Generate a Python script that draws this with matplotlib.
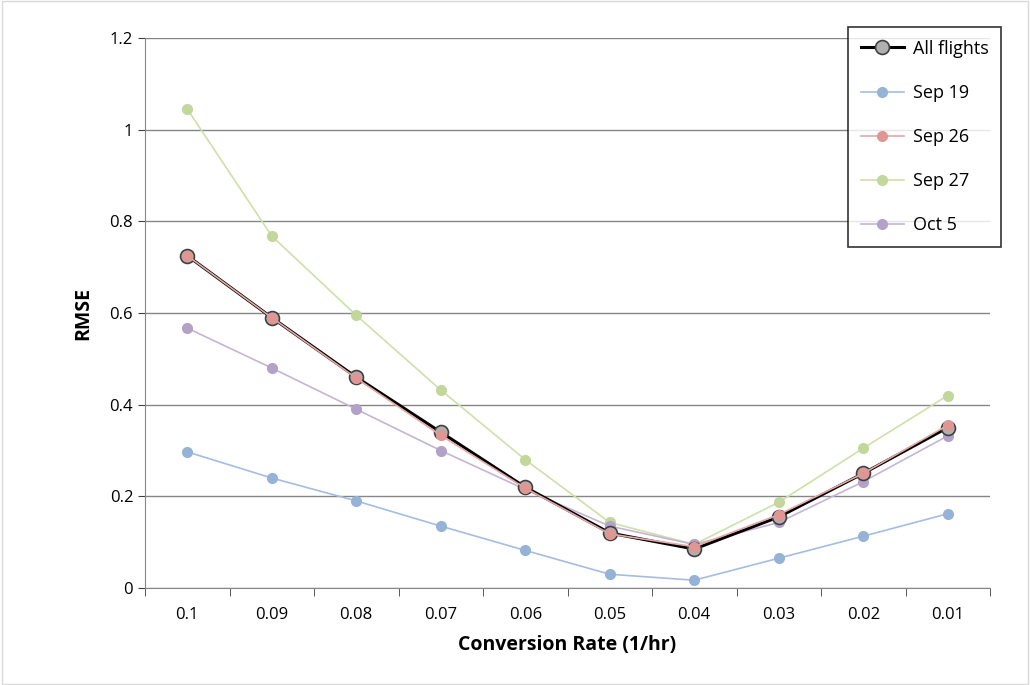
import matplotlib
matplotlib.use("Agg")
import matplotlib.pyplot as plt

plt.rcParams["font.family"] = ["Open Sans", "DejaVu Sans"]

rates = ["0.1", "0.09", "0.08", "0.07", "0.06", "0.05", "0.04", "0.03", "0.02", "0.01"]
all_flights = [0.725, 0.59, 0.46, 0.34, 0.22, 0.12, 0.085, 0.155, 0.25, 0.35]
sep19 = [0.297, 0.24, 0.19, 0.135, 0.082, 0.03, 0.017, 0.065, 0.113, 0.162]
sep26 = [0.725, 0.59, 0.458, 0.333, 0.218, 0.118, 0.09, 0.16, 0.25, 0.355]
sep27 = [1.045, 0.768, 0.595, 0.432, 0.28, 0.143, 0.095, 0.187, 0.305, 0.42]
oct5 = [0.567, 0.48, 0.39, 0.30, 0.215, 0.135, 0.095, 0.143, 0.232, 0.332]

fig = plt.figure(figsize=(10.3, 6.85), dpi=100)
ax = fig.add_axes([145 / 1030, 1 - 588 / 685, 845 / 1030, 550 / 685])
x = list(range(len(rates)))

ax.plot(x, all_flights, color="black", lw=2.2, marker="o", ms=10,
        mfc="#b0b0b0", mec="#404040", mew=1.2, label="All flights", zorder=5)
ax.plot(x, sep19, color="#a4bde0", lw=1.2, marker="o", ms=7, mfc="#95b3d7", mec="#95b3d7", label="Sep 19")
ax.plot(x, sep26, color="#e4a8a6", lw=1.2, marker="o", ms=7, mfc="#e09794", mec="#e09794", label="Sep 26", zorder=6)
ax.plot(x, sep27, color="#cfe0a8", lw=1.2, marker="o", ms=7, mfc="#c3d69b", mec="#c3d69b", label="Sep 27")
ax.plot(x, oct5, color="#c4b5d6", lw=1.2, marker="o", ms=7, mfc="#b3a2c7", mec="#b3a2c7", label="Oct 5")

ax.set_xlim(-0.5, len(rates) - 0.5)
ax.set_ylim(0, 1.2)
ax.set_yticks([0, 0.2, 0.4, 0.6, 0.8, 1.0, 1.2])
ax.set_yticklabels(["0", "0.2", "0.4", "0.6", "0.8", "1", "1.2"])
ax.set_xticks(x)
ax.set_xticklabels(rates)
ax.set_xticks([i - 0.5 for i in range(len(rates) + 1)], minor=True)
ax.tick_params(axis="x", which="major", length=0, pad=14, labelsize=12)
ax.tick_params(axis="x", which="minor", length=6, direction="out", color="#404040")
ax.tick_params(axis="y", length=5, labelsize=12, color="#404040")
ax.grid(axis="y", color="#868686", lw=1)
ax.set_axisbelow(True)
for s in ["top", "right"]:
    ax.spines[s].set_visible(False)
for s in ["left", "bottom"]:
    ax.spines[s].set_color("#868686")

ax.set_xlabel("Conversion Rate (1/hr)", fontsize=14, fontweight="bold", labelpad=8)
ax.set_ylabel("RMSE", fontsize=14, fontweight="bold", labelpad=12)

leg = ax.legend(loc="upper left", bbox_to_anchor=(848 / 1030, 1 - 27 / 685),
                bbox_transform=fig.transFigure, fontsize=13, frameon=True,
                fancybox=False, edgecolor="black", labelspacing=1.45,
                handlelength=2.4, handletextpad=0.5, borderpad=0.7, borderaxespad=0)
leg.get_frame().set_linewidth(1.2)

fig.patches.append(plt.Rectangle((0.002, 0.002), 0.996, 0.996, transform=fig.transFigure,
                                 fill=False, edgecolor="#d9d9d9", lw=1))

fig.savefig("out.png", dpi=100)
